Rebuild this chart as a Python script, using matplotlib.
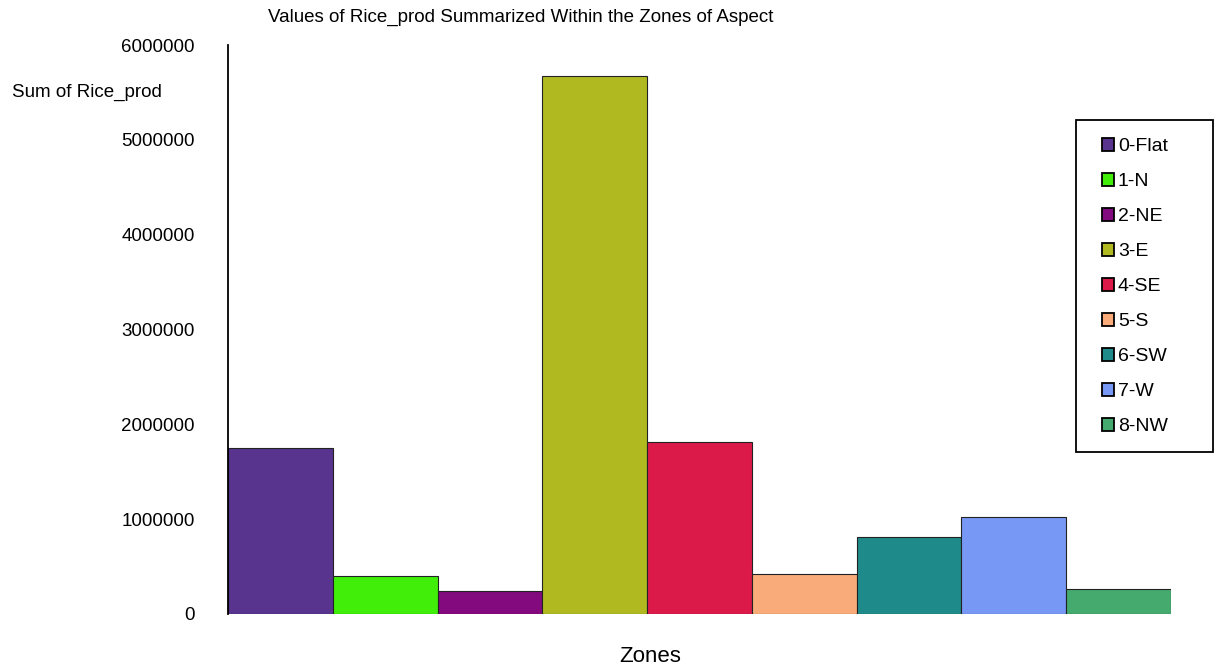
import matplotlib.pyplot as plt
import matplotlib.patches as mpatches
import numpy as np

plt.rcParams['font.family'] = ['Liberation Sans', 'DejaVu Sans']

zones = ['0-Flat', '1-N', '2-NE', '3-E', '4-SE', '5-S', '6-SW', '7-W', '8-NW']
rice_prod = [1750000, 401000, 243000, 5673000, 1814000, 422000, 812000, 1023000, 264000]
colors = ['#58348F', '#40EE0A', '#820A7E', '#B0BA20', '#DC1A4A',
          '#F9AC7A', '#1F8A8A', '#7799F5', '#44AA6E']

W, H = 1220, 670
fig = plt.figure(figsize=(W/100, H/100), dpi=100)
ax = fig.add_axes([228/W, 1-614/H, (1171-228)/W, (614-45)/H])

x = np.arange(len(zones))
bars = ax.bar(x, rice_prod, width=1.0, color=colors, edgecolor='#222222', linewidth=0.8)

ax.set_xlim(-0.5, len(zones) - 0.5)
ax.set_ylim(0, 6000000)
ax.set_yticks(np.arange(0, 6000001, 1000000))
ax.set_yticklabels([str(v) for v in range(0, 6000001, 1000000)], fontsize=13.5)
ax.set_xticks([])
for s in ['top', 'right', 'bottom']:
    ax.spines[s].set_visible(False)
ax.spines['left'].set_linewidth(1.3)
ax.tick_params(axis='y', direction='inout', length=0, pad=24)

fig.text(521/W, 1-17/H, 'Values of Rice_prod Summarized Within the Zones of Aspect',
         ha='center', va='center', fontsize=13.5)
fig.text(12/W, 1-92/H, 'Sum of Rice_prod', ha='left', va='center', fontsize=13.5)
fig.text(650/W, 1-657/H, 'Zones', ha='center', va='center', fontsize=16)

# legend frame drawn separately so it can be wider than the entries
frame = mpatches.Rectangle((1076/W, 1-452/H), (1213-1076)/W, (452-120)/H,
                           transform=fig.transFigure, facecolor='white',
                           edgecolor='black', linewidth=1.3)
fig.add_artist(frame)
leg = fig.legend(bars, zones, loc='upper left', bbox_to_anchor=(1102/W, 1-138/H),
                 fontsize=14, frameon=False, handlelength=0.62, handleheight=0.62,
                 handletextpad=0.2, labelspacing=0.92, borderpad=0, borderaxespad=0)
for h in leg.legend_handles:
    h.set_edgecolor('black')
    h.set_linewidth(1.3)

fig.savefig('out.png', dpi=100)
